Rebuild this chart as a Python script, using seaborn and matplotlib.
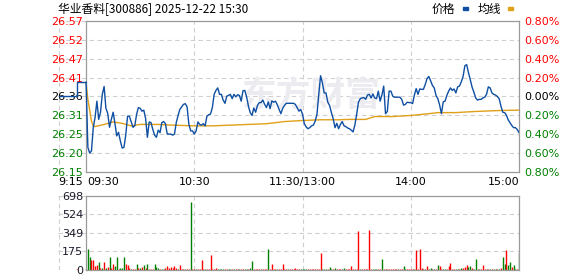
import numpy as np
import pandas as pd
import matplotlib
matplotlib.use("Agg")
import matplotlib.pyplot as plt
from matplotlib.patches import Rectangle
import seaborn as sns

sns.set_theme(style="white")
plt.rcParams["font.family"] = ["DejaVu Sans"]
CJK = ["Noto Sans CJK SC", "DejaVu Sans"]

# ---------------- data ----------------
title = "华业香料[300886] 2025-12-22 15:30"
prev_close = 26.36

auction_min = [-15, -5, 0]
auction_price = [26.36, 26.40, 26.40]
auction_vol_min = [-5]
auction_vol = [9]

price = [
    26.400, 26.218, 26.202, 26.208, 26.274, 26.302, 26.347, 26.296, 26.316, 26.366,
    26.388, 26.327, 26.313, 26.274, 26.296, 26.316, 26.285, 26.250, 26.260, 26.236,
    26.216, 26.218, 26.252, 26.305, 26.305, 26.289, 26.274, 26.278, 26.310, 26.329,
    26.327, 26.319, 26.322, 26.299, 26.246, 26.289, 26.287, 26.268, 26.252, 26.246,
    26.266, 26.259, 26.287, 26.290, 26.284, 26.255, 26.255, 26.255, 26.252, 26.255,
    26.287, 26.307, 26.324, 26.331, 26.338, 26.340, 26.331, 26.282, 26.264, 26.264,
    26.255, 26.264, 26.289, 26.282, 26.280, 26.284, 26.278, 26.305, 26.309, 26.311,
    26.329, 26.366, 26.377, 26.384, 26.366, 26.366, 26.350, 26.341, 26.361, 26.363,
    26.366, 26.354, 26.366, 26.359, 26.365, 26.363, 26.347, 26.376, 26.377, 26.359,
    26.333, 26.315, 26.307, 26.328, 26.316, 26.335, 26.343, 26.343, 26.350, 26.338,
    26.329, 26.345, 26.326, 26.348, 26.344, 26.347, 26.337, 26.324, 26.312, 26.327,
    26.335, 26.341, 26.341, 26.341, 26.341, 26.341, 26.338, 26.329, 26.319, 26.324,
    26.310, 26.284, 26.275, 26.270, 26.273, 26.278, 26.280, 26.291, 26.310, 26.366,
    26.418, 26.398, 26.370, 26.370, 26.344, 26.335, 26.315, 26.298, 26.273, 26.285,
    26.270, 26.282, 26.290, 26.278, 26.276, 26.272, 26.270, 26.266, 26.261, 26.280,
    26.310, 26.344, 26.354, 26.356, 26.357, 26.352, 26.364, 26.366, 26.356, 26.367,
    26.356, 26.354, 26.375, 26.347, 26.364, 26.389, 26.312, 26.318, 26.375, 26.375,
    26.361, 26.358, 26.358, 26.358, 26.358, 26.352, 26.336, 26.338, 26.344, 26.343,
    26.343, 26.340, 26.364, 26.382, 26.366, 26.381, 26.380, 26.380, 26.393, 26.410,
    26.416, 26.404, 26.391, 26.384, 26.363, 26.354, 26.336, 26.312, 26.345, 26.347,
    26.363, 26.375, 26.384, 26.377, 26.381, 26.370, 26.387, 26.389, 26.401, 26.416,
    26.446, 26.449, 26.426, 26.407, 26.386, 26.372, 26.356, 26.350, 26.352, 26.352,
    26.356, 26.358, 26.366, 26.387, 26.384, 26.370, 26.366, 26.364, 26.360, 26.354,
    26.333, 26.316, 26.315, 26.308, 26.295, 26.287, 26.279, 26.273, 26.273, 26.268,
    26.259,
]

avg_min = [0, 1, 2, 3, 4, 5, 10, 15, 20, 25, 30, 40, 48, 60, 70, 80, 90, 100, 110,
           120, 130, 140, 146, 155, 160, 170, 180, 190, 195, 205, 215, 225, 230, 240]
avg_price = [26.400, 26.352, 26.322, 26.291, 26.278, 26.276, 26.282, 26.289, 26.285,
             26.278, 26.282, 26.282, 26.280, 26.278, 26.278, 26.280, 26.282, 26.284,
             26.290, 26.293, 26.295, 26.295, 26.296, 26.296, 26.304, 26.304, 26.307,
             26.312, 26.315, 26.315, 26.318, 26.320, 26.321, 26.322]

volume = [
    5, 198, 122, 94, 94, 38, 47, 75, 22, 16,
    75, 22, 31, 122, 16, 57, 38, 122, 9, 16,
    22, 122, 57, 47, 16, 9, 9, 9, 53, 16,
    22, 31, 47, 22, 53, 9, 9, 9, 57, 31,
    16, 9, 9, 9, 16, 38, 16, 31, 16, 38,
    16, 9, 47, 9, 9, 9, 9, 9, 644, 9,
    9, 9, 9, 9, 94, 9, 9, 9, 9, 141,
    9, 9, 22, 9, 6, 9, 6, 6, 9, 6,
    9, 6, 9, 6, 9, 6, 9, 9, 6, 9,
    9, 16, 85, 9, 9, 6, 9, 9, 6, 9,
    9, 198, 9, 57, 9, 9, 6, 9, 9, 57,
    9, 6, 9, 9, 6, 9, 22, 9, 6, 9,
    9, 6, 9, 9, 9, 6, 9, 9, 9, 9,
    157, 9, 6, 9, 9, 28, 9, 6, 19, 9,
    9, 6, 9, 16, 9, 9, 6, 38, 9, 6,
    9, 367, 9, 6, 9, 9, 9, 377, 9, 6,
    9, 9, 9, 6, 104, 9, 9, 9, 6, 9,
    9, 6, 9, 6, 9, 9, 38, 9, 9, 6,
    9, 9, 6, 188, 9, 198, 22, 9, 9, 38,
    9, 22, 9, 9, 9, 47, 41, 9, 9, 9,
    9, 41, 66, 9, 9, 9, 9, 9, 22, 22,
    31, 47, 31, 38, 22, 9, 104, 9, 9, 9,
    47, 9, 9, 9, 9, 9, 9, 9, 9, 9,
    22, 122, 57, 188, 47, 75, 28, 47, 9, 6,
    160,
]
vol_up = [
    1, 0, 0, 1, 1, 1, 1, 0, 1, 0,
    1, 0, 1, 0, 1, 1, 0, 0, 1, 0,
    0, 0, 1, 1, 1, 0, 1, 1, 0, 1,
    0, 1, 0, 1, 0, 1, 1, 1, 0, 0,
    0, 1, 0, 0, 1, 1, 1, 1, 1, 1,
    1, 0, 1, 1, 1, 0, 1, 1, 0, 1,
    1, 0, 1, 1, 1, 1, 0, 1, 1, 1,
    1, 1, 1, 0, 0, 0, 0, 1, 1, 0,
    0, 1, 0, 1, 1, 0, 1, 1, 0, 0,
    1, 0, 0, 1, 1, 1, 1, 0, 1, 1,
    1, 0, 1, 1, 1, 1, 0, 1, 1, 1,
    1, 1, 0, 1, 1, 1, 1, 1, 1, 0,
    0, 0, 0, 1, 1, 1, 1, 1, 1, 1,
    1, 0, 0, 0, 1, 0, 0, 1, 0, 1,
    1, 1, 0, 0, 1, 1, 1, 1, 1, 1,
    1, 1, 0, 1, 1, 1, 1, 1, 1, 0,
    0, 0, 1, 1, 0, 1, 0, 1, 1, 1,
    1, 1, 1, 0, 1, 1, 0, 0, 1, 1,
    1, 1, 0, 1, 1, 1, 1, 1, 0, 1,
    0, 0, 1, 0, 1, 0, 1, 1, 0, 0,
    1, 1, 1, 1, 1, 0, 0, 1, 0, 1,
    1, 1, 0, 0, 1, 0, 0, 1, 0, 1,
    1, 1, 0, 1, 0, 1, 0, 0, 1, 0,
    1, 0, 0, 1, 0, 0, 1, 0, 0, 1,
    0,
]

time_ticks = [-15, 0, 60, 120, 180, 240]
time_labels = ["9:15", "09:30", "10:30", "11:30/13:00", "14:00", "15:00"]
pct_levels = [0.8, 0.6, 0.4, 0.2, 0.0, -0.2, -0.4, -0.6, -0.8]
vol_max = 698
vol_levels = [0, 175, 349, 524, 698]
legend_names = ["价格", "均线"]

# ---------------- styling ----------------
W, H = 578, 276
BLUE = "#0f4fa3"
ORANGE = "#e0a018"
RED = "#ff0000"
GREEN = "#008000"
GRID = "#cfcfcf"
FRAME = "#9a9a9a"


def rect(l, t, r, b):
    return [l / W, 1 - b / H, (r - l) / W, (b - t) / H]


fig = plt.figure(figsize=(W / 100, H / 100), dpi=100)
ax = fig.add_axes(rect(58, 21, 519, 172))
axv = fig.add_axes(rect(58, 196, 519, 270))

x_left = -15.56
minutes = np.arange(len(price))
df = pd.DataFrame({"minute": minutes, "price": price})
dfa = pd.DataFrame({"minute": avg_min, "avg": avg_price})
dfauc = pd.DataFrame({"minute": auction_min, "price": auction_price})

ymin = prev_close * (1 - 0.008)
ymax = prev_close * (1 + 0.008)
price_ticks = [prev_close * (1 + p / 100) for p in pct_levels]

for a in (ax, axv):
    a.set_xlim(x_left, 240)
    for s in a.spines.values():
        s.set_color(FRAME)
        s.set_linewidth(0.9)
    a.spines["left"].set_position(("data", 0))
    a.spines["top"].set_bounds(0, 240)
    a.spines["bottom"].set_bounds(0, 240)
    a.set_xticks([])
    a.tick_params(axis="y", length=0, pad=2, labelsize=8)
    # grid
    a.axvline(x_left + 0.3, color=GRID, lw=0.8, ls=(0, (4, 3)), zorder=0)
    for m in (60, 120, 180):
        a.axvline(m, color=GRID, lw=0.8, ls=(0, (4, 3)), zorder=0)

ax.set_ylim(ymin, ymax)
for t in price_ticks:
    ax.axhline(t, xmin=0, xmax=1, color=GRID, lw=0.8, ls=(0, (4, 3)), zorder=0)
ax.set_yticks(price_ticks, [f"{t:.2f}" for t in price_ticks])
for lab, p in zip(ax.get_yticklabels(), pct_levels):
    lab.set_color(RED if p > 0 else ("black" if p == 0 else GREEN))

ax2 = ax.twinx()
ax2.set_ylim(ymin, ymax)
ax2.set_yticks(price_ticks, [f"{abs(p):.2f}%" for p in pct_levels])
ax2.tick_params(axis="y", length=0, pad=4, labelsize=8)
for s in ax2.spines.values():
    s.set_visible(False)
for lab, p in zip(ax2.get_yticklabels(), pct_levels):
    lab.set_color(RED if p > 0 else ("black" if p == 0 else GREEN))

# watermark
ax.text(125, prev_close + 0.005, "东方财富", family=CJK, fontsize=25, fontweight="bold",
        color="#ececf0", ha="center", va="center", zorder=0)

# price lines
sns.lineplot(data=dfauc, x="minute", y="price", ax=ax, color=BLUE, lw=1.0,
             drawstyle="steps-post", zorder=3)
sns.lineplot(data=dfa, x="minute", y="avg", ax=ax, color=ORANGE, lw=1.0, zorder=2)
sns.lineplot(data=df, x="minute", y="price", ax=ax, color=BLUE, lw=1.0, zorder=3)
ax.set_xlabel("")
ax.set_ylabel("")

# time labels
xt = ax.get_xaxis_transform()
for m, lab in zip(time_ticks, time_labels):
    if m == -15:
        ha, xx = "left", x_left
    elif m == 0:
        ha, xx = "left", 0.4
    elif m == 240:
        ha, xx = "right", 240
    else:
        ha, xx = "center", m
    ax.text(xx, -0.068, lab, transform=xt, ha=ha, va="center", fontsize=8, color="black")

# volume
axv.set_ylim(0, vol_max)
for v in vol_levels[1:-1]:
    axv.axhline(v, color=GRID, lw=0.8, ls=(0, (4, 3)), zorder=0)
axv.axhline(0, xmin=0, xmax=15.56 / 255.56, color=GRID, lw=0.8, ls=(0, (4, 3)), zorder=0)
axv.axhline(vol_max, xmin=0, xmax=15.56 / 255.56, color=GRID, lw=0.8, ls=(0, (4, 3)), zorder=0)
ax.axhline(ymax, xmin=0, xmax=15.56 / 255.56, color=GRID, lw=0.8, ls=(0, (4, 3)), zorder=0)
ax.axhline(ymin, xmin=0, xmax=15.56 / 255.56, color=GRID, lw=0.8, ls=(0, (4, 3)), zorder=0)
axv.set_yticks(vol_levels, [str(v) for v in vol_levels])
for lab in axv.get_yticklabels():
    lab.set_color("#1a1a2a")

vcolors = [RED if u else GREEN for u in vol_up]
axv.vlines(minutes, 0, volume, colors=vcolors, lw=1.0, zorder=2)
axv.vlines(auction_vol_min, 0, auction_vol, colors=RED, lw=1.0, zorder=2)

# title + legend
fig.text(58 / W, 1 - 9.5 / H, title, family=CJK, fontsize=8.5, ha="left", va="center",
         color="black")
fig.text(443 / W, 1 - 9.5 / H, legend_names[0], family=CJK, fontsize=8.5, ha="center",
         va="center", color="black")
fig.text(489 / W, 1 - 9.5 / H, legend_names[1], family=CJK, fontsize=8.5, ha="center",
         va="center", color="black")
fig.add_artist(Rectangle((463 / W, 1 - 10 / H), 5 / W, 3 / H, color=BLUE,
                         transform=fig.transFigure))
fig.add_artist(Rectangle((508 / W, 1 - 10 / H), 5 / W, 3 / H, color=ORANGE,
                         transform=fig.transFigure))

fig.savefig("out.png", dpi=100)
